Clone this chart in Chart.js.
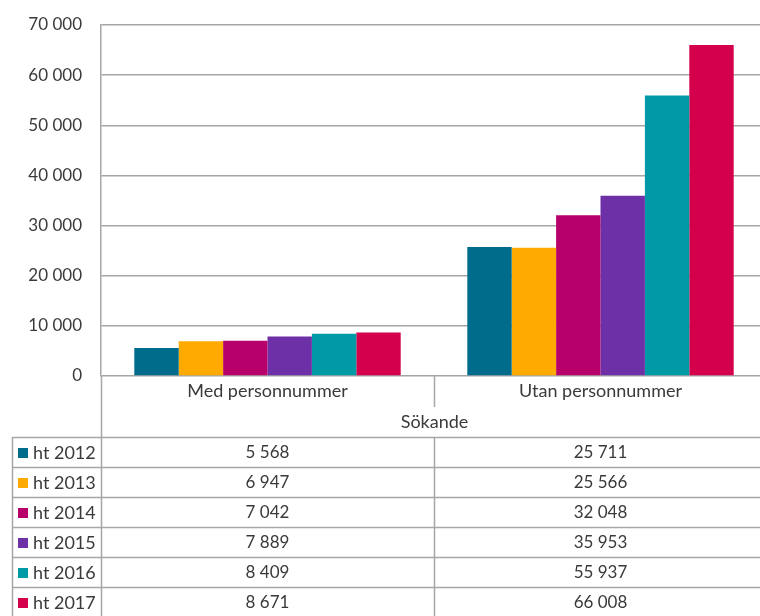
<!DOCTYPE html>
<html>
<head>
<meta charset="utf-8">
<script src="https://cdn.jsdelivr.net/npm/chart.js@4/dist/chart.umd.min.js"></script>
<style>
  body { margin: 0; background: #fff; }
  #wrap { width: 760px; height: 616px; overflow: hidden; }
</style>
</head>
<body>
<div id="wrap"><canvas id="chart" width="767" height="616"></canvas></div>
<script>
// Data
const categories = ['Med personnummer', 'Utan personnummer'];
const terms = ['ht 2012', 'ht 2013', 'ht 2014', 'ht 2015', 'ht 2016', 'ht 2017'];
const medValues = [5568, 6947, 7042, 7889, 8409, 8671];
const utanValues = [25711, 25566, 32048, 35953, 55937, 66008];
const axisTitle = 'Sökande';
const yMax = 70000;
const yStep = 10000;

const colors = ['#006C8C', '#FFAA00', '#B8006A', '#6E30A6', '#009AA6', '#D4004C'];
const textColor = '#3a3a3a';
const lineColor = '#a6a6a6';
const fontFamily = 'Lato, "Noto Sans", sans-serif';

function fmt(v) {
    return String(v).replace(/\B(?=(\d{3})+(?!\d))/g, ' ');
}

const datasets = terms.map((t, i) => ({
    label: t,
    data: [medValues[i], utanValues[i]],
    backgroundColor: colors[i],
    borderWidth: 0,
    categoryPercentage: 0.8,
    barPercentage: 1.0
}));

// Draws the axis title, category dividers and the data table under the plot
const tablePlugin = {
    id: 'dataTable',
    afterDraw(chart) {
        const ctx = chart.ctx;
        const area = chart.chartArea;
        const xs = chart.scales.x;
        const c0 = xs.getPixelForValue(0);
        const c1 = xs.getPixelForValue(1);
        const divX = Math.round((c0 + c1) / 2) + 0.5;
        const left = 12.5;
        const axisX = Math.round(area.left) + 0.5;
        const right = chart.width;
        const tableTop = area.bottom + 61;
        const rowH = 30;
        const bottom = chart.height;

        ctx.save();
        ctx.strokeStyle = lineColor;
        ctx.lineWidth = 1.5;

        // y axis continues down through the table
        ctx.beginPath();
        ctx.moveTo(axisX, area.bottom);
        ctx.lineTo(axisX, bottom);
        // divider between categories under the axis
        ctx.moveTo(divX, area.bottom);
        ctx.lineTo(divX, area.bottom + 31);
        // table verticals
        ctx.moveTo(divX, tableTop);
        ctx.lineTo(divX, bottom);
        ctx.moveTo(left, tableTop);
        ctx.lineTo(left, bottom);
        // table horizontals
        for (let i = 0; i < terms.length; i++) {
            const y = Math.round(tableTop + i * rowH) + 0.5;
            ctx.moveTo(left, y);
            ctx.lineTo(right, y);
        }
        ctx.stroke();

        ctx.fillStyle = textColor;
        ctx.font = '18px ' + fontFamily;
        ctx.textBaseline = 'middle';
        ctx.textAlign = 'center';
        ctx.fillText(axisTitle, divX, area.bottom + 46);

        terms.forEach((t, i) => {
            const cy = tableTop + i * rowH + rowH / 2 + 1;
            ctx.fillStyle = colors[i];
            ctx.fillRect(18, cy - 5, 10, 10);
            ctx.fillStyle = textColor;
            ctx.textAlign = 'left';
            ctx.font = '18px ' + fontFamily;
            ctx.fillText(t, 33, cy);
            ctx.textAlign = 'center';
            ctx.font = '17px ' + fontFamily;
            ctx.fillText(fmt(medValues[i]), c0, cy);
            ctx.fillText(fmt(utanValues[i]), c1, cy);
        });
        ctx.restore();
    }
};

new Chart(document.getElementById('chart'), {
    type: 'bar',
    data: { labels: categories, datasets: datasets },
    options: {
        responsive: false,
        animation: false,
        layout: { padding: { top: 25, right: 0, bottom: 0, left: 0 } },
        plugins: {
            legend: { display: false },
            tooltip: { enabled: false }
        },
        scales: {
            x: {
                grid: { display: false, drawTicks: false },
                border: { display: false },
                ticks: {
                    color: textColor,
                    font: { family: fontFamily, size: 18 },
                    padding: 4,
                    maxRotation: 0
                },
                afterFit(scale) { scale.height = 240; }
            },
            y: {
                min: 0,
                max: yMax,
                grid: { color: lineColor, lineWidth: 1.5, drawTicks: false },
                border: { color: lineColor, width: 1.5 },
                ticks: {
                    stepSize: yStep,
                    color: textColor,
                    font: { family: fontFamily, size: 17 },
                    padding: 19,
                    callback: v => fmt(v)
                },
                afterFit(scale) {
                    scale.width = 101;
                    scale.paddingTop = 0;
                    scale.paddingBottom = 0;
                }
            }
        }
    },
    plugins: [tablePlugin]
});
</script>
</body>
</html>
